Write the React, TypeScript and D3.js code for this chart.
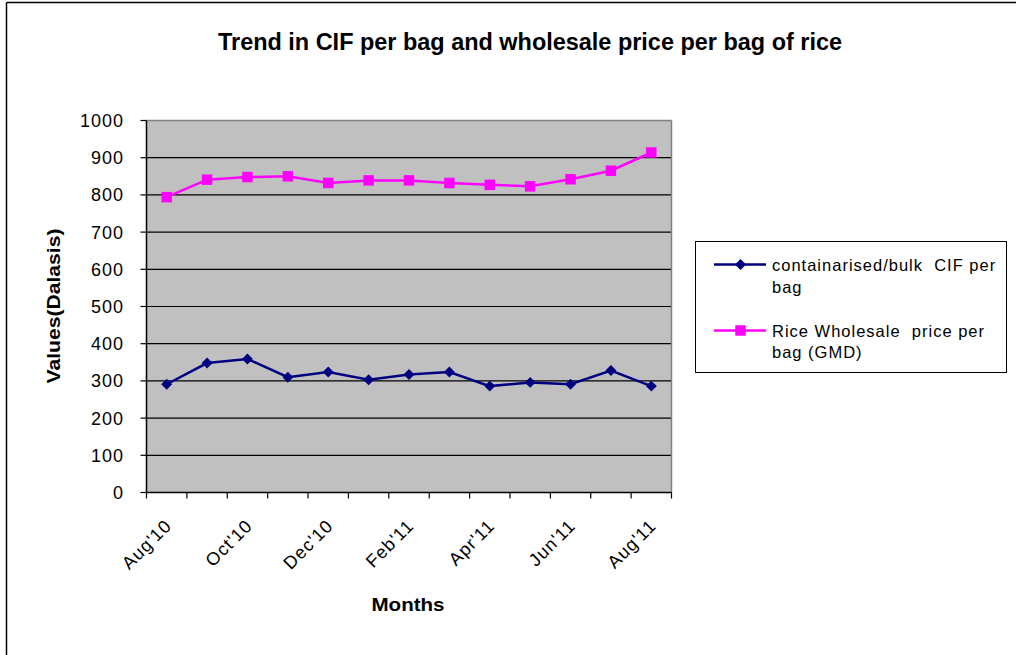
import React from "react";
import * as d3 from "d3";

// Monthly series, Aug 2010 – Aug 2011
const months = [
  "Aug'10", "Sep'10", "Oct'10", "Nov'10", "Dec'10", "Jan'11", "Feb'11",
  "Mar'11", "Apr'11", "May'11", "Jun'11", "Jul'11", "Aug'11",
];
const cifPerBag = [291, 348, 359, 310, 324, 303, 317, 324, 286, 296, 291, 328, 286];
const wholesalePerBag = [794, 841, 848, 850, 832, 839, 839, 832, 827, 823, 842, 865, 914];
const yTicks = [0, 100, 200, 300, 400, 500, 600, 700, 800, 900, 1000];

const seriesNames = [
  ["containarised/bulk  CIF per", "bag"],
  ["Rice Wholesale  price per", "bag (GMD)"],
];

const W = 1016;
const H = 655;
const plot = { left: 146.5, right: 671.5, top: 120.5, bottom: 492.5 };
const FONT = "'Liberation Sans', Arial, sans-serif";
const NAVY = "#000080";
const MAGENTA = "#FF00FF";

export default function App() {
  const x = d3
    .scaleBand<string>()
    .domain(months)
    .range([plot.left, plot.right])
    .paddingInner(0)
    .paddingOuter(0);
  const cx = (m: string) => (x(m) as number) + x.bandwidth() / 2;
  const y = d3.scaleLinear().domain([0, 1000]).range([plot.bottom, plot.top]);

  const line = d3
    .line<number>()
    .x((_, i) => cx(months[i]))
    .y((v) => y(v));

  const diamond = d3.symbol().type(d3.symbolSquare).size(60)() as string;
  const square = d3.symbol().type(d3.symbolSquare).size(110)() as string;

  const boundaries = months.map((m) => x(m) as number).concat([plot.right]);

  return (
    <div style={{ position: "absolute", left: 0, top: 0 }}>
      <svg width={W} height={H} style={{ display: "block", background: "#fff" }}>
        {/* outer frame */}
        <line x1={6.5} y1={2.5} x2={W} y2={2.5} stroke="#000" strokeWidth={1.5} />
        <line x1={6.5} y1={2.5} x2={6.5} y2={H} stroke="#000" strokeWidth={1.5} />

        {/* title */}
        <text
          x={530}
          y={50}
          textAnchor="middle"
          fontFamily={FONT}
          fontWeight="bold"
          fontSize={23}
          textLength={624}
          lengthAdjust="spacingAndGlyphs"
        >
          Trend in CIF per bag and wholesale price per bag of rice
        </text>

        {/* plot background */}
        <rect
          x={plot.left}
          y={plot.top}
          width={plot.right - plot.left}
          height={plot.bottom - plot.top}
          fill="#C0C0C0"
        />

        {/* horizontal gridlines */}
        {yTicks
          .filter((t) => t > 0 && t < 1000)
          .map((t) => (
            <line
              key={"g" + t}
              x1={plot.left}
              x2={plot.right}
              y1={y(t)}
              y2={y(t)}
              stroke="#000"
              strokeWidth={1.2}
            />
          ))}

        {/* plot border (top/right) */}
        <line x1={plot.left} x2={plot.right} y1={plot.top} y2={plot.top} stroke="#808080" strokeWidth={1.5} />
        <line x1={plot.right} x2={plot.right} y1={plot.top} y2={plot.bottom} stroke="#808080" strokeWidth={1.5} />

        {/* y axis */}
        <line x1={plot.left} x2={plot.left} y1={plot.top} y2={plot.bottom} stroke="#000" strokeWidth={1.5} />
        {yTicks.map((t) => (
          <g key={"y" + t}>
            <line x1={plot.left - 6} x2={plot.left} y1={y(t)} y2={y(t)} stroke="#000" strokeWidth={1.2} />
            <text
              x={124}
              y={y(t)}
              dy="0.36em"
              textAnchor="end"
              fontFamily={FONT}
              fontSize={18}
              letterSpacing={1}
              fill="#000"
            >
              {t}
            </text>
          </g>
        ))}

        {/* x axis */}
        <line x1={plot.left} x2={plot.right} y1={plot.bottom} y2={plot.bottom} stroke="#000" strokeWidth={1.5} />
        {boundaries.map((b, i) => (
          <line key={"xt" + i} x1={b} x2={b} y1={plot.bottom} y2={plot.bottom + 6} stroke="#000" strokeWidth={1.2} />
        ))}
        {months.map((m, i) =>
          i % 2 === 0 ? (
            <text
              key={"xl" + m}
              transform={`translate(${cx(m) + 6},${527}) rotate(-45)`}
              textAnchor="end"
              fontFamily={FONT}
              fontSize={18}
              letterSpacing={1}
              fill="#000"
            >
              {m}
            </text>
          ) : null
        )}

        {/* axis titles */}
        <text
          transform={`translate(60,306) rotate(-90)`}
          textAnchor="middle"
          fontFamily={FONT}
          fontWeight="bold"
          fontSize={18.5}
          textLength={155}
          lengthAdjust="spacingAndGlyphs"
        >
          Values(Dalasis)
        </text>
        <text
          x={408}
          y={611}
          textAnchor="middle"
          fontFamily={FONT}
          fontWeight="bold"
          fontSize={19}
          textLength={73}
          lengthAdjust="spacingAndGlyphs"
        >
          Months
        </text>

        {/* series lines */}
        <path d={line(wholesalePerBag) as string} fill="none" stroke={MAGENTA} strokeWidth={2.5} />
        <path d={line(cifPerBag) as string} fill="none" stroke={NAVY} strokeWidth={2.5} />

        {wholesalePerBag.map((v, i) => (
          <path key={"s" + i} d={square} transform={`translate(${cx(months[i])},${y(v)})`} fill={MAGENTA} />
        ))}
        {cifPerBag.map((v, i) => (
          <path key={"d" + i} d={diamond} transform={`translate(${cx(months[i])},${y(v)}) rotate(45)`} fill={NAVY} />
        ))}

        {/* legend */}
        <rect x={695.5} y={241.5} width={311} height={131} fill="#fff" stroke="#000" strokeWidth={1} />
        <line x1={714} x2={766} y1={264.5} y2={264.5} stroke={NAVY} strokeWidth={2.5} />
        <path d={diamond} transform="translate(740.5,264.5) rotate(45)" fill={NAVY} />
        <line x1={714} x2={766} y1={330.5} y2={330.5} stroke={MAGENTA} strokeWidth={2.5} />
        <path d={square} transform="translate(740.5,330.5)" fill={MAGENTA} />
        {seriesNames.map((lines, si) =>
          lines.map((txt, li) => (
            <text
              key={"lg" + si + li}
              x={772}
              y={271 + si * 65.5 + li * 21.5}
              fontFamily={FONT}
              fontSize={16.5}
              letterSpacing={1}
              style={{ whiteSpace: "pre" }}
              fill="#000"
            >
              {txt}
            </text>
          ))
        )}
      </svg>
    </div>
  );
}
